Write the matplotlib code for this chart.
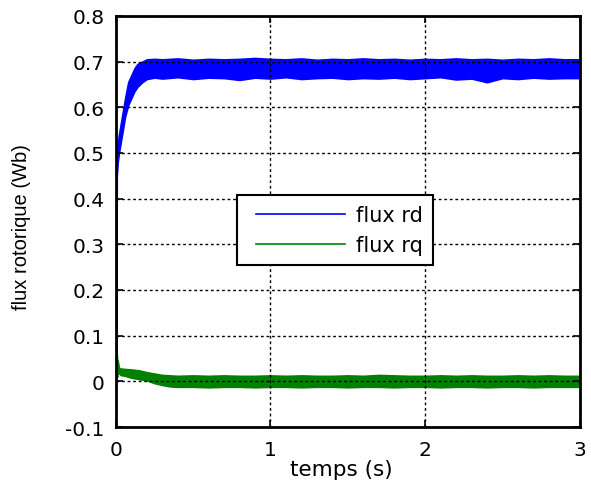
import numpy as np
import matplotlib
matplotlib.use("Agg")
import matplotlib.pyplot as plt
from matplotlib.lines import Line2D
from matplotlib.legend_handler import HandlerLine2D

plt.rcParams['font.family'] = ['DejaVu Sans']

# flux rd: start-up transient then noisy band (upper / lower envelope)
rd_t = [0, 0.003, 0.006, 0.012, 0.02, 0.03, 0.045, 0.06, 0.08, 0.10, 0.12, 0.14, 0.17, 0.20, 0.25,
        0.3, 0.4, 0.5, 0.6, 0.7, 0.8, 0.9, 1.0, 1.1, 1.2, 1.3, 1.4, 1.5, 1.6, 1.7, 1.8,
        1.9, 2.0, 2.1, 2.2, 2.3, 2.4, 2.5, 2.6, 2.7, 2.8, 2.9, 3.0]
rd_hi = [0.0, 0.45, 0.50, 0.52, 0.54, 0.56, 0.59, 0.62, 0.655, 0.67, 0.685, 0.695, 0.70, 0.705, 0.706,
         0.705, 0.707, 0.704, 0.706, 0.705, 0.706, 0.708, 0.706, 0.705, 0.707, 0.704, 0.706, 0.705, 0.707,
         0.705, 0.706, 0.704, 0.706, 0.705, 0.707, 0.705, 0.706, 0.704, 0.706, 0.705, 0.707, 0.705, 0.705]
rd_lo = [0.0, 0.10, 0.45, 0.48, 0.50, 0.52, 0.55, 0.58, 0.605, 0.62, 0.635, 0.645, 0.655, 0.662, 0.665,
         0.663, 0.666, 0.662, 0.665, 0.664, 0.660, 0.665, 0.663, 0.666, 0.662, 0.664, 0.665, 0.662, 0.664,
         0.663, 0.665, 0.662, 0.664, 0.666, 0.661, 0.663, 0.655, 0.664, 0.662, 0.665, 0.663, 0.664, 0.664]

# flux rq: initial spike then band around zero
rq_t = [0, 0.003, 0.006, 0.009, 0.012, 0.02, 0.03, 0.06, 0.1, 0.15, 0.2, 0.25, 0.3, 0.35,
        0.4, 0.5, 0.6, 0.7, 0.8, 0.9, 1.0, 1.1, 1.2, 1.3, 1.4, 1.5, 1.6, 1.7, 1.8, 1.9,
        2.0, 2.1, 2.2, 2.3, 2.4, 2.5, 2.6, 2.7, 2.8, 2.9, 3.0]
rq_hi = [0.07, 0.078, 0.06, 0.045, 0.045, 0.03, 0.028, 0.027, 0.026, 0.024, 0.02, 0.017, 0.014, 0.013,
         0.012, 0.013, 0.012, 0.013, 0.012, 0.012, 0.013, 0.012, 0.013, 0.012, 0.012, 0.013, 0.012, 0.014,
         0.013, 0.012, 0.012, 0.013, 0.012, 0.013, 0.012, 0.012, 0.013, 0.012, 0.013, 0.012, 0.012]
rq_lo = [0.05, 0.03, 0.012, 0.01, 0.02, 0.018, 0.014, 0.012, 0.008, 0.005, 0.002, -0.004, -0.008, -0.011,
         -0.012, -0.012, -0.013, -0.012, -0.012, -0.013, -0.012, -0.012, -0.013, -0.012, -0.012, -0.013, -0.012, -0.012,
         -0.013, -0.012, -0.012, -0.013, -0.012, -0.012, -0.013, -0.012, -0.012, -0.013, -0.012, -0.012, -0.012]

xticks = [0, 1, 2, 3]
yticks = [-0.1, 0, 0.1, 0.2, 0.3, 0.4, 0.5, 0.6, 0.7, 0.8]
ytick_labels = ['-0.1', '0', '0.1', '0.2', '0.3', '0.4', '0.5', '0.6', '0.7', '0.8']

blue = '#0000ff'
green = '#008000'

fig = plt.figure(figsize=(5.91, 4.85), dpi=100)
ax = fig.add_axes([0.196, 0.1175, 0.785, 0.8475])

ax.fill_between(rd_t, rd_lo, rd_hi, color=blue, lw=1.2, edgecolor=blue)
ax.fill_between(rq_t, rq_lo, rq_hi, color=green, lw=1.2, edgecolor=green)
ax.plot([], [], color=blue, lw=1.2, label='flux rd')
ax.plot([], [], color=green, lw=1.2, label='flux rq')

ax.set_xlim(0, 3)
ax.set_ylim(-0.1, 0.8)
ax.set_xticks(xticks)
ax.set_xticklabels([str(v) for v in xticks])
ax.set_yticks(yticks)
ax.set_yticklabels(ytick_labels)
ax.tick_params(direction='in', top=True, right=True, labelsize=14.5, length=5, width=1.2)
ax.tick_params(axis='x', pad=9)
ax.tick_params(axis='y', pad=8)
ax.grid(True, color='black', linestyle=(0, (2, 2)), linewidth=1)
for s in ax.spines.values():
    s.set_linewidth(2)

ax.set_xlabel('temps (s)', fontsize=15.5)
ax.xaxis.set_label_coords(0.485, -0.078)
ax.set_ylabel('flux rotorique (Wb)', fontsize=14.5, family='Liberation Sans')
ax.yaxis.set_label_coords(-0.182, 0.49)

# xpad pushes the legend lines a bit to the right inside the box
leg = ax.legend(loc='upper left', bbox_to_anchor=(237 / 591, 1 - 196 / 485),
                bbox_transform=fig.transFigure, fontsize=15, frameon=True,
                fancybox=False, edgecolor='black', framealpha=1, handlelength=4.7,
                borderpad=0.5, borderaxespad=0, labelspacing=0.45, handletextpad=0.5,
                handler_map={Line2D: HandlerLine2D(xpad=0.4)})
leg.get_frame().set_linewidth(1.5)

fig.savefig('out.png', dpi=100)
